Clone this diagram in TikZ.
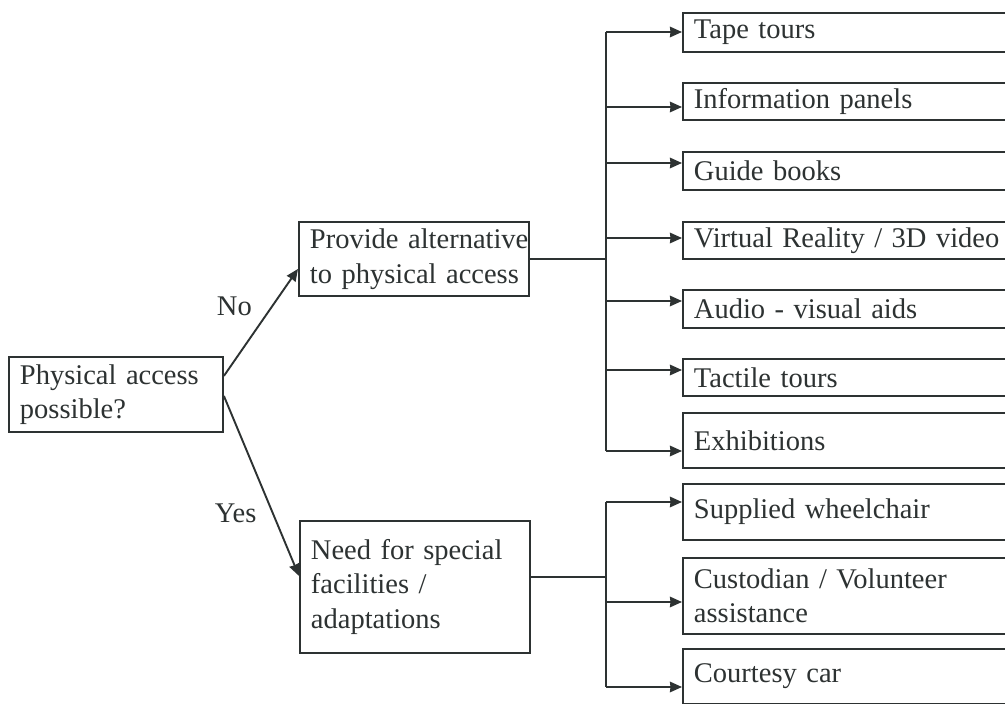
\documentclass[tikz,border=0pt]{standalone}
\usepackage{fontspec}
\setmainfont{Liberation Serif}
\usetikzlibrary{arrows.meta}
\definecolor{ink}{RGB}{45,50,50}
\begin{document}
\begin{tikzpicture}[x=1pt,y=-1pt,
  txt/.style={text=ink, font=\fontsize{28.5}{34.5}\selectfont},
  box/.style={txt, draw=ink, line width=1.9pt, inner xsep=11pt, inner ysep=0pt,
              anchor=north west, align=left,
              execute at begin node={\hyphenpenalty=10000\exhyphenpenalty=10000\hfuzz=50pt}},
  conn/.style={draw=ink, line width=1.9pt},
  arr/.style={conn, -{Stealth[length=12pt,width=10.5pt,inset=0.5pt]}}]
  \useasboundingbox (0,0) rectangle (1005,704);
  \fill[white] (0,0) rectangle (1005,704);
  \clip (0,0) rectangle (1005,704);

  % decision and second-level boxes
  \node[box, minimum width=214pt, minimum height=75pt, text width=192pt] (phys) at (8,356)
    {Physical access\\possible?};
  \node[box, minimum width=230pt, minimum height=74pt, text width=208pt] (prov) at (298,221)
    {Provide~alternative\\to~physical~access};
  \node[box, minimum width=230pt, minimum height=132pt, text width=208pt] (need) at (299,520)
    {Need for special\\facilities /\\adaptations};

  % option boxes (run off the right edge)
  \foreach \name/\y/\h/\t in {
      tape/12/39/{Tape tours},
      info/82/37/{Information panels},
      guide/151/38/{Guide books},
      vr/221/37/{Virtual Reality / 3D video},
      audio/289/38/{Audio - visual aids},
      tact/358/37/{Tactile tours},
      exhib/412/55/{Exhibitions},
      supp/483/56/{Supplied wheelchair},
      cust/557/76/{Custodian / Volunteer\\assistance},
      court/648/55/{Courtesy car}}
    \node[box, minimum width=340pt, minimum height=\h pt, text width=318pt] (\name) at (682,\y) {\t};

  % No / Yes branches
  \draw[arr] ([yshift=18.5pt]phys.east) -- node[txt, pos=0.65, left=16pt] (no) {No} ([yshift=-10pt]prov.west);
  \draw[arr] ([yshift=-1.5pt]phys.east) -- node[txt, pos=0.65, left=12pt] (yes) {Yes} ([yshift=11pt]need.west);

  % upper distribution bus
  \foreach \c/\y in {a1/32, a2/107, a3/163, a4/238, a5/301, a6/370, a7/451}
    \coordinate (\c) at (606,\y);
  \draw[conn] (prov.east) -- (prov.east -| a1);
  \draw[conn] (a1) -- (a7);
  \foreach \c/\n in {a1/tape, a2/info, a3/guide, a4/vr, a5/audio, a6/tact, a7/exhib}
    \draw[arr] (\c) -- (\c -| \n.west);

  % lower distribution bus
  \foreach \c/\y in {b1/502, b2/602, b3/687}
    \coordinate (\c) at (606,\y);
  \draw[conn] ([yshift=10pt]need.east) -- ([yshift=10pt]need.east -| b1);
  \draw[conn] (b1) -- (b3);
  \foreach \c/\n in {b1/supp, b2/cust, b3/court}
    \draw[arr] (\c) -- (\c -| \n.west);
\end{tikzpicture}
\end{document}
